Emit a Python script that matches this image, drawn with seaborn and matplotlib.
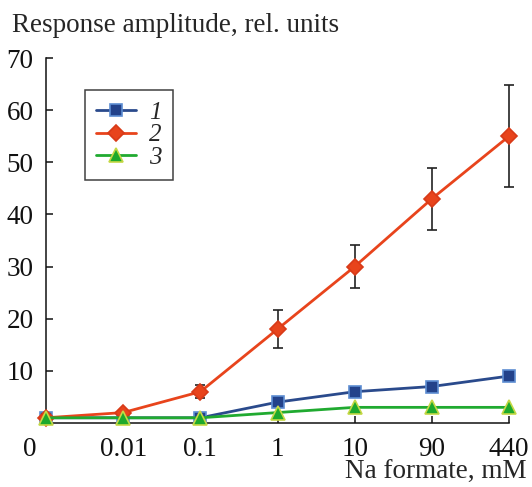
import numpy as np
import pandas as pd
import matplotlib
matplotlib.use("Agg")
import matplotlib.pyplot as plt
import matplotlib.transforms as mtransforms
import seaborn as sns

categories = ["0", "0.01", "0.1", "1", "10", "90", "440"]
series1 = [1, 1, 1, 4, 6, 7, 9]
series2 = [1, 2, 6, 18, 30, 43, 55]
series3 = [1, 1, 1, 2, 3, 3, 3]
err1 = [0, 0, 0, 0.4, 0.6, 0.7, 0.9]
err2 = [0, 0, 1.3, 3.7, 4.1, 6.0, 9.8]
labels = ["1", "2", "3"]
yticks = [10, 20, 30, 40, 50, 60, 70]

sns.set_style("ticks")
plt.rcParams['font.family'] = ['Liberation Serif', 'DejaVu Serif']
FS = 19.5

fig = plt.figure(figsize=(5.32, 4.87), dpi=100)
ax = fig.add_axes([46/532, 1-423/487, (509-46)/532, (423-58)/487])

pos = np.arange(len(categories))
df = pd.DataFrame({
    "x": np.concatenate([pos, pos, pos]),
    "y": series1 + series2 + series3,
    "s": [labels[0]]*7 + [labels[1]]*7 + [labels[2]]*7,
})

styles = [
    dict(color="#2A4A8C", marker="s", mfc="#23428A", mec="#5D8DD2", ms=9),
    dict(color="#E8441C", marker="D", mfc="#E8441C", mec="#D83A18", ms=8.5),
    dict(color="#20AA30", marker="^", mfc="#1DA92C", mec="#C5D845", ms=10.5),
]
errs = [err1, err2, None]

for i, lab in enumerate(labels):
    st = styles[i]
    sub = df[df["s"] == lab]
    sns.lineplot(data=sub, x="x", y="y", ax=ax, color=st["color"], lw=2,
                 marker=st["marker"], markersize=st["ms"],
                 markerfacecolor=st["mfc"], markeredgecolor=st["mec"],
                 markeredgewidth=1.2, label=lab, clip_on=False, zorder=3+i)
    if errs[i] is not None:
        e = np.array(errs[i])
        m = e > 0
        ax.errorbar(pos[m], np.array(sub["y"])[m], yerr=e[m], fmt="none",
                    ecolor="#222222", elinewidth=1.2, capsize=3.5,
                    capthick=1.2, zorder=2, clip_on=False)

ax.set_xlim(0, 6)
ax.set_ylim(0, 70)
ax.set_xticks(pos)
ax.set_xticklabels(categories)
ax.set_yticks(yticks)
ax.tick_params(axis="both", direction="in", length=5, width=1.1, colors="#111111",
               labelsize=FS)
ax.tick_params(axis="x", pad=10)
ax.tick_params(axis="y", pad=9)
ax.xaxis.get_major_ticks()[0].tick1line.set_visible(False)
for lbl in ax.get_xticklabels()[:1]:
    lbl.set_transform(lbl.get_transform() + mtransforms.ScaledTranslation(-16/100, 0, fig.dpi_scale_trans))

for side in ["top", "right"]:
    ax.spines[side].set_visible(False)
for side in ["left", "bottom"]:
    ax.spines[side].set_linewidth(1.1)
    ax.spines[side].set_color("#111111")
ax.set_xlabel("")
ax.set_ylabel("")

leg = ax.legend(loc="upper left", frameon=True, borderaxespad=0,
                fancybox=False, edgecolor="#111111", handlelength=1.6,
                prop={"family": "Liberation Serif", "style": "italic", "size": 18},
                borderpad=0.45, labelspacing=0.0, handletextpad=0.5)
leg.set_bbox_to_anchor((85/532, 1-90/487), transform=fig.transFigure)
leg.get_frame().set_linewidth(1.1)

fig.text(12/532, 1-25/487, "Response amplitude, rel. units", ha="left", va="center", fontsize=FS)
fig.text(527/532, 1-472/487, "Na formate, mM", ha="right", va="center", fontsize=FS)

fig.savefig("out.png", dpi=100)
